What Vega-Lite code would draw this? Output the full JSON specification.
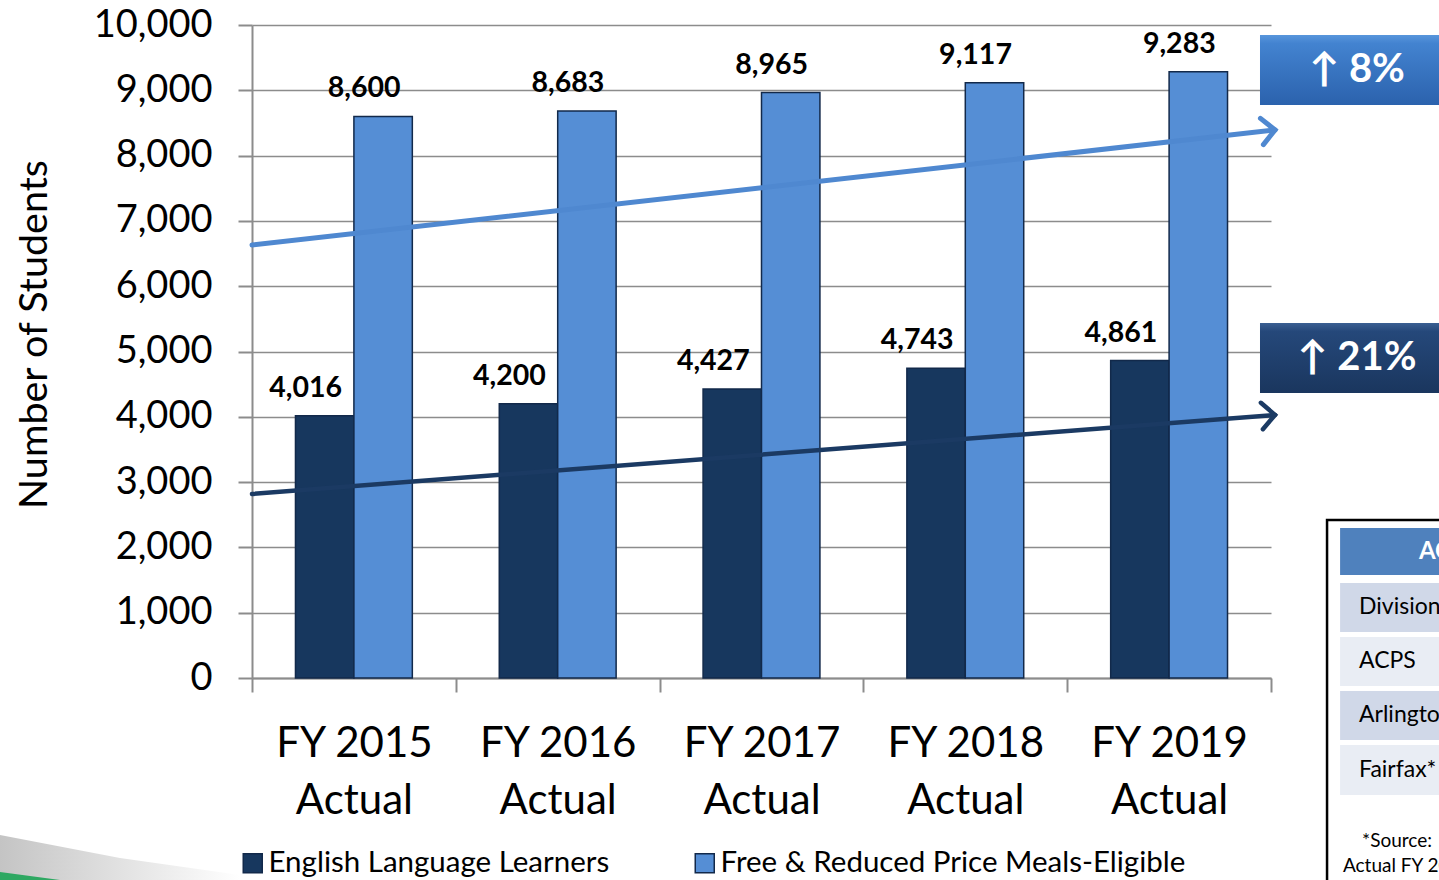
{
  "$schema": "https://vega.github.io/schema/vega-lite/v6.json",
  "width": 1019,
  "height": 653,
  "autosize": {"type": "none"},
  "padding": {"left": 252, "top": 25, "right": 168, "bottom": 202},
  "background": "white",
  "config": {"view": {"stroke": null}, "font": "Lato"},
  "datasets": {
    "bars": [
      {"year": "FY 2015 Actual", "group": "English Language Learners", "students": 4016},
      {"year": "FY 2015 Actual", "group": "Free & Reduced Price Meals-Eligible", "students": 8600},
      {"year": "FY 2016 Actual", "group": "English Language Learners", "students": 4200},
      {"year": "FY 2016 Actual", "group": "Free & Reduced Price Meals-Eligible", "students": 8683},
      {"year": "FY 2017 Actual", "group": "English Language Learners", "students": 4427},
      {"year": "FY 2017 Actual", "group": "Free & Reduced Price Meals-Eligible", "students": 8965},
      {"year": "FY 2018 Actual", "group": "English Language Learners", "students": 4743},
      {"year": "FY 2018 Actual", "group": "Free & Reduced Price Meals-Eligible", "students": 9117},
      {"year": "FY 2019 Actual", "group": "English Language Learners", "students": 4861},
      {"year": "FY 2019 Actual", "group": "Free & Reduced Price Meals-Eligible", "students": 9283}
    ],
    "trend": [
      {"series": "FRPM", "t": 0, "v": 6631},
      {"series": "FRPM", "t": 5.02, "v": 8392},
      {"series": "ELL", "t": 0, "v": 2818},
      {"series": "ELL", "t": 5.02, "v": 4028}
    ],
    "boxes": [
      {"label": "↑ 8%", "series": "FRPM", "x1": 4.946, "x2": 6.2, "y1": 9847, "y2": 8775, "tx": 5.422, "ty": 9311},
      {"label": "↑ 21%", "series": "ELL", "x1": 4.946, "x2": 6.2, "y1": 5436, "y2": 4364, "tx": 5.422, "ty": 4900}
    ],
    "tableFrame": [
      {"x1": 5.275, "x2": 6.3, "y1": 2420, "y2": -3700}
    ],
    "tableHeader": [
      {"label": "ACPS", "x1": 5.339, "x2": 6.3, "y1": 2297, "y2": 1577, "tx": 5.726, "ty": 1930}
    ],
    "tableRows": [
      {"row": "Division", "x1": 5.339, "x2": 6.3, "y1": 1455, "y2": 704, "tx": 5.432, "ty": 1080},
      {"row": "ACPS", "x1": 5.339, "x2": 6.3, "y1": 628, "y2": -123, "tx": 5.432, "ty": 253},
      {"row": "Arlington", "x1": 5.339, "x2": 6.3, "y1": -199, "y2": -949, "tx": 5.432, "ty": -574},
      {"row": "Fairfax*", "x1": 5.339, "x2": 6.3, "y1": -1026, "y2": -1792, "tx": 5.432, "ty": -1409}
    ],
    "notes": [
      {"text": "*Source:", "tx": 5.447, "ty": -2496},
      {"text": "Actual FY 2019", "tx": 5.353, "ty": -2879}
    ],
    "swoosh": [
      {"t": -1.2365, "v": -2404, "b": -3300},
      {"t": -0.648, "v": -2757, "b": -3300},
      {"t": -0.059, "v": -3017, "b": -3300}
    ],
    "green": [
      {"t": -1.2365, "v": -2971, "b": -3300},
      {"t": -0.942, "v": -3093, "b": -3300}
    ]
  },
  "layer": [
    {
      "data": {"name": "bars"},
      "layer": [
        {
          "mark": {"type": "bar", "stroke": "#12294a", "strokeWidth": 1.5},
          "encoding": {
            "x": {
              "field": "year", "type": "nominal",
              "scale": {"paddingInner": 0, "paddingOuter": 0},
              "axis": {
                "title": null, "labelAngle": 0, "labelFontSize": 42, "labelColor": "black",
                "labelExpr": "[substring(datum.label,0,7), substring(datum.label,8)]",
                "labelLineHeight": 57, "labelPadding": 31, "tickBand": "extent",
                "tickSize": 14, "tickColor": "#8c8c8c", "tickWidth": 2,
                "domainColor": "#8c8c8c", "domainWidth": 2, "grid": false
              }
            },
            "xOffset": {"field": "group", "type": "nominal", "scale": {"paddingOuter": 0.744, "paddingInner": 0}},
            "y": {
              "field": "students", "type": "quantitative",
              "scale": {"domain": [0, 10000], "nice": false},
              "axis": {
                "title": "Number of Students", "titleFontSize": 39.5, "titleFontWeight": "normal",
                "titleColor": "black", "titlePadding": 39, "titleY": 309,
                "values": [0, 1000, 2000, 3000, 4000, 5000, 6000, 7000, 8000, 9000, 10000],
                "format": ",d", "labelFontSize": 38, "labelColor": "black", "labelPadding": 26,
                "tickSize": 14, "tickColor": "#8c8c8c", "tickWidth": 2,
                "domainColor": "#8c8c8c", "domainWidth": 2,
                "grid": true, "gridColor": "#8c8c8c", "gridWidth": 1.5
              }
            },
            "color": {
              "field": "group", "type": "nominal",
              "scale": {
                "domain": ["English Language Learners", "Free & Reduced Price Meals-Eligible"],
                "range": ["#17375e", "#558ed5"]
              },
              "legend": {
                "orient": "none", "legendX": -14, "legendY": 823, "direction": "horizontal",
                "title": null, "labelFontSize": 29.5, "labelColor": "black", "labelLimit": 700,
                "symbolType": "square", "symbolSize": 361, "symbolStrokeWidth": 1.5,
                "symbolStrokeColor": "#12294a", "labelOffset": 1, "columnPadding": 80, "padding": 0
              }
            }
          }
        },
        {
          "mark": {"type": "text", "fontWeight": "bold", "fontSize": 28.5, "dx": -19, "dy": -19, "baseline": "alphabetic", "color": "black"},
          "encoding": {
            "x": {"field": "year", "type": "nominal"},
            "xOffset": {"field": "group", "type": "nominal"},
            "y": {"field": "students", "type": "quantitative", "scale": {"domain": [0, 10000], "nice": false}},
            "text": {"field": "students", "type": "quantitative", "format": ","}
          }
        }
      ]
    },
    {
      "layer": [
        {
          "data": {"name": "swoosh"},
          "mark": {"type": "area", "fill": {"gradient": "linear", "x1": 0, "y1": 0, "x2": 1, "y2": 0, "stops": [{"offset": 0, "color": "#c4c4c4"}, {"offset": 1, "color": "#ffffff"}]}},
          "encoding": {
            "x": {"field": "t", "type": "quantitative", "scale": {"domain": [0, 5], "nice": false, "zero": false}, "axis": null},
            "y": {"field": "v", "type": "quantitative", "scale": {"domain": [0, 10000], "nice": false}, "axis": null},
            "y2": {"field": "b"}
          }
        },
        {
          "data": {"name": "green"},
          "mark": {"type": "area", "color": "#2ea862"},
          "encoding": {
            "x": {"field": "t", "type": "quantitative", "axis": null},
            "y": {"field": "v", "type": "quantitative", "axis": null},
            "y2": {"field": "b"}
          }
        },
        {
          "data": {"name": "trend"},
          "transform": [{"filter": "datum.series === 'FRPM'"}],
          "mark": {"type": "line", "color": "#4f88d0", "strokeWidth": 5, "strokeCap": "round"},
          "encoding": {
            "x": {"field": "t", "type": "quantitative", "axis": null},
            "y": {"field": "v", "type": "quantitative", "axis": null}
          }
        },
        {
          "data": {"name": "trend"},
          "transform": [{"filter": "datum.series === 'FRPM' && datum.t > 5"}],
          "mark": {"type": "point", "shape": "M -1 -1 L 0 0 L -1 1", "filled": false, "size": 700, "strokeWidth": 5, "angle": -6.4, "color": "#4f88d0", "opacity": 1, "strokeCap": "round"},
          "encoding": {
            "x": {"field": "t", "type": "quantitative", "axis": null},
            "y": {"field": "v", "type": "quantitative", "axis": null}
          }
        },
        {
          "data": {"name": "trend"},
          "transform": [{"filter": "datum.series === 'ELL'"}],
          "mark": {"type": "line", "color": "#1b3a63", "strokeWidth": 4.5, "strokeCap": "round"},
          "encoding": {
            "x": {"field": "t", "type": "quantitative", "axis": null},
            "y": {"field": "v", "type": "quantitative", "axis": null}
          }
        },
        {
          "data": {"name": "trend"},
          "transform": [{"filter": "datum.series === 'ELL' && datum.t > 5"}],
          "mark": {"type": "point", "shape": "M -1 -1 L 0 0 L -1 1", "filled": false, "size": 700, "strokeWidth": 4.5, "angle": -4.4, "color": "#1b3a63", "opacity": 1, "strokeCap": "round"},
          "encoding": {
            "x": {"field": "t", "type": "quantitative", "axis": null},
            "y": {"field": "v", "type": "quantitative", "axis": null}
          }
        },
        {
          "data": {"name": "boxes"},
          "mark": {"type": "rect", "color": "#000000", "opacity": 0.28, "xOffset": 2, "yOffset": 5},
          "encoding": {
            "x": {"field": "x1", "type": "quantitative", "axis": null},
            "x2": {"field": "x2"},
            "y": {"field": "y1", "type": "quantitative", "axis": null},
            "y2": {"field": "y2"}
          }
        },
        {
          "data": {"name": "boxes"},
          "transform": [{"filter": "datum.series === 'FRPM'"}],
          "mark": {"type": "rect", "fill": {"gradient": "linear", "x1": 0, "y1": 0, "x2": 0, "y2": 1, "stops": [{"offset": 0, "color": "#5896dc"}, {"offset": 0.12, "color": "#4383d0"}, {"offset": 1, "color": "#2b62ad"}]}},
          "encoding": {
            "x": {"field": "x1", "type": "quantitative", "axis": null},
            "x2": {"field": "x2"},
            "y": {"field": "y1", "type": "quantitative", "axis": null},
            "y2": {"field": "y2"}
          }
        },
        {
          "data": {"name": "boxes"},
          "transform": [{"filter": "datum.series === 'ELL'"}],
          "mark": {"type": "rect", "fill": {"gradient": "linear", "x1": 0, "y1": 0, "x2": 0, "y2": 1, "stops": [{"offset": 0, "color": "#3a5f92"}, {"offset": 0.12, "color": "#25487a"}, {"offset": 1, "color": "#1a365e"}]}},
          "encoding": {
            "x": {"field": "x1", "type": "quantitative", "axis": null},
            "x2": {"field": "x2"},
            "y": {"field": "y1", "type": "quantitative", "axis": null},
            "y2": {"field": "y2"}
          }
        },
        {
          "data": {"name": "boxes"},
          "mark": {"type": "text", "color": "white", "fontWeight": "bold", "fontSize": 40, "align": "center", "baseline": "middle", "font": "Lato, DejaVu Sans"},
          "encoding": {
            "x": {"field": "tx", "type": "quantitative", "axis": null},
            "y": {"field": "ty", "type": "quantitative", "axis": null},
            "text": {"field": "label"}
          }
        },
        {
          "data": {"name": "tableFrame"},
          "mark": {"type": "rect", "fill": "white", "stroke": "black", "strokeWidth": 2.5},
          "encoding": {
            "x": {"field": "x1", "type": "quantitative", "axis": null},
            "x2": {"field": "x2"},
            "y": {"field": "y1", "type": "quantitative", "axis": null},
            "y2": {"field": "y2"}
          }
        },
        {
          "data": {"name": "tableHeader"},
          "mark": {"type": "rect", "color": "#4f81bd"},
          "encoding": {
            "x": {"field": "x1", "type": "quantitative", "axis": null},
            "x2": {"field": "x2"},
            "y": {"field": "y1", "type": "quantitative", "axis": null},
            "y2": {"field": "y2"}
          }
        },
        {
          "data": {"name": "tableHeader"},
          "mark": {"type": "text", "color": "white", "fontWeight": "bold", "fontSize": 24, "align": "left", "baseline": "middle"},
          "encoding": {
            "x": {"field": "tx", "type": "quantitative", "axis": null},
            "y": {"field": "ty", "type": "quantitative", "axis": null},
            "text": {"field": "label"}
          }
        },
        {
          "data": {"name": "tableRows"},
          "transform": [{"filter": "datum.row === 'Division' || datum.row === 'Arlington'"}],
          "mark": {"type": "rect", "color": "#d0d8e8"},
          "encoding": {
            "x": {"field": "x1", "type": "quantitative", "axis": null},
            "x2": {"field": "x2"},
            "y": {"field": "y1", "type": "quantitative", "axis": null},
            "y2": {"field": "y2"}
          }
        },
        {
          "data": {"name": "tableRows"},
          "transform": [{"filter": "datum.row === 'ACPS' || datum.row === 'Fairfax*'"}],
          "mark": {"type": "rect", "color": "#e9edf4"},
          "encoding": {
            "x": {"field": "x1", "type": "quantitative", "axis": null},
            "x2": {"field": "x2"},
            "y": {"field": "y1", "type": "quantitative", "axis": null},
            "y2": {"field": "y2"}
          }
        },
        {
          "data": {"name": "tableRows"},
          "mark": {"type": "text", "color": "black", "fontSize": 23, "align": "left", "baseline": "middle"},
          "encoding": {
            "x": {"field": "tx", "type": "quantitative", "axis": null},
            "y": {"field": "ty", "type": "quantitative", "axis": null},
            "text": {"field": "row"}
          }
        },
        {
          "data": {"name": "notes"},
          "mark": {"type": "text", "color": "black", "fontSize": 19, "align": "left", "baseline": "middle"},
          "encoding": {
            "x": {"field": "tx", "type": "quantitative", "axis": null},
            "y": {"field": "ty", "type": "quantitative", "axis": null},
            "text": {"field": "text"}
          }
        }
      ]
    }
  ],
  "resolve": {"scale": {"x": "independent"}, "axis": {"x": "independent", "y": "independent"}}
}
